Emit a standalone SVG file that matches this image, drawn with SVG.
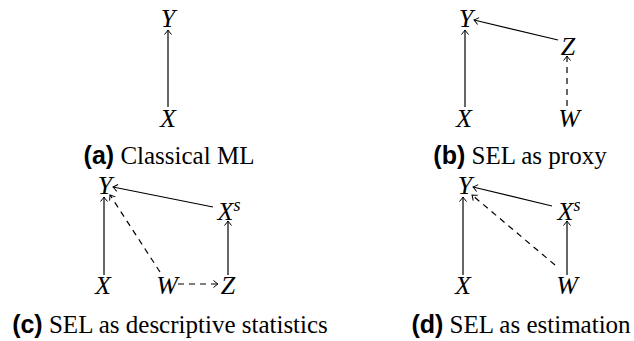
<svg xmlns="http://www.w3.org/2000/svg" width="634" height="341" viewBox="0 0 634 341">
<style>
.n{font-family:'Liberation Serif','Times New Roman',serif;font-style:italic;font-size:26px;fill:#000;text-anchor:middle}
.sup{font-size:18px}
.cap{font-family:'Liberation Serif','Times New Roman',serif;font-size:25px;fill:#000;text-anchor:middle}
.lab{font-family:'Liberation Sans',Arial,sans-serif;font-weight:bold}
.e{stroke:#000;stroke-width:1.2;fill:none;marker-end:url(#ah)}
.d{stroke-dasharray:6 5}
</style>
<defs>
<marker id="ah" viewBox="-6 -5 8 10" markerWidth="8" markerHeight="10" refX="0" refY="0" orient="auto" markerUnits="userSpaceOnUse">
<path d="M-4.5,-3.5 Q-1.5,-1 0,0 Q-1.5,1 -4.5,3.5" stroke="#000" stroke-width="1" fill="none"/>
</marker>
</defs>
<g id="connectors">
<line class="e" x1="168" y1="107" x2="168" y2="30"/>
<line class="e" x1="465" y1="107" x2="465" y2="30"/>
<line class="e" x1="558" y1="40" x2="474" y2="20"/>
<line class="e d" x1="567" y1="106" x2="567" y2="56"/>
<line class="e" x1="104" y1="275" x2="104" y2="197"/>
<line class="e" x1="213" y1="207" x2="113" y2="187"/>
<line class="e d" x1="160" y1="272" x2="110" y2="195"/>
<line class="e" x1="228" y1="275" x2="228" y2="221"/>
<line class="e d" x1="178" y1="284" x2="218" y2="284"/>
<line class="e" x1="463" y1="275" x2="463" y2="197"/>
<line class="e" x1="552" y1="206" x2="473" y2="187"/>
<line class="e d" x1="555" y1="265" x2="472" y2="195"/>
<line class="e" x1="567" y1="275" x2="567" y2="221"/>
</g>
<g id="a-Y"><text class="n" x="168" y="27">Y</text></g>
<g id="a-X"><text class="n" x="168" y="127">X</text></g>
<g id="b-Y"><text class="n" x="466" y="27">Y</text></g>
<g id="b-Z"><text class="n" x="568" y="55">Z</text></g>
<g id="b-X"><text class="n" x="464" y="127">X</text></g>
<g id="b-W"><text class="n" x="569" y="127">W</text></g>
<g id="c-Y"><text class="n" x="105" y="194">Y</text></g>
<g id="c-Xs"><text class="n" x="229" y="220">X<tspan class="sup" dy="-9">s</tspan></text></g>
<g id="c-X"><text class="n" x="103" y="294">X</text></g>
<g id="c-W"><text class="n" x="167" y="294">W</text></g>
<g id="c-Z"><text class="n" x="228" y="294">Z</text></g>
<g id="d-Y"><text class="n" x="465" y="194">Y</text></g>
<g id="d-Xs"><text class="n" x="569" y="220">X<tspan class="sup" dy="-9">s</tspan></text></g>
<g id="d-X"><text class="n" x="463" y="294">X</text></g>
<g id="d-W"><text class="n" x="567" y="294">W</text></g>
<g id="captions">
<text class="cap" x="169" y="164"><tspan class="lab">(a)</tspan> Classical ML</text>
<text class="cap" x="520" y="164"><tspan class="lab">(b)</tspan> SEL as proxy</text>
<text class="cap" x="170" y="333"><tspan class="lab">(c)</tspan> SEL as descriptive statistics</text>
<text class="cap" x="521" y="333"><tspan class="lab">(d)</tspan> SEL as estimation</text>
</g>
</svg>
